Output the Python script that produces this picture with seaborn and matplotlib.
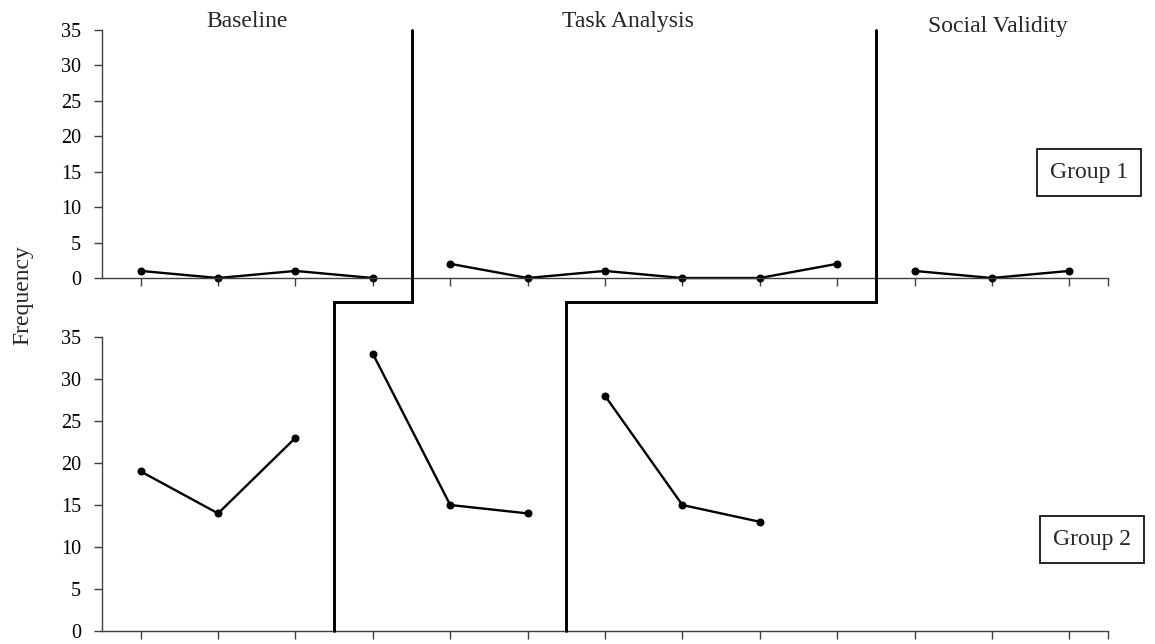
import numpy as np
import pandas as pd
import seaborn as sns
import matplotlib
matplotlib.use('Agg')
import matplotlib.pyplot as plt
from matplotlib.lines import Line2D
from matplotlib.transforms import blended_transform_factory

# data
sessions_g1 = list(range(1, 14))
freq_g1 = [1, 0, 1, 0, 2, 0, 1, 0, 0, 2, 1, 0, 1]
phase_g1 = ['Baseline'] * 4 + ['Task Analysis'] * 6 + ['Social Validity'] * 3

sessions_g2 = list(range(1, 10))
freq_g2 = [19, 14, 23, 33, 15, 14, 28, 15, 13]
phase_g2 = ['Baseline'] * 3 + ['Task Analysis'] * 3 + ['Social Validity'] * 3

phase_titles = ['Baseline', 'Task Analysis', 'Social Validity']
phase_change_g1 = [4.5, 10.5]
phase_change_g2 = [3.5, 6.5]
group_labels = ['Group 1', 'Group 2']

df1 = pd.DataFrame({'session': sessions_g1, 'freq': freq_g1, 'phase': phase_g1})
df2 = pd.DataFrame({'session': sessions_g2, 'freq': freq_g2, 'phase': phase_g2})

sns.set_theme(style='white')
plt.rcParams['font.family'] = ['Liberation Serif', 'DejaVu Serif']

W, H = 1155, 644
fig = plt.figure(figsize=(W / 100, H / 100), dpi=100)
ax1 = fig.add_axes([102 / W, 1 - 278 / H, 1006 / W, 248 / H])
ax2 = fig.add_axes([102 / W, 1 - 631 / H, 1006 / W, 294 / H])

axis_col = '#404040'
for ax, df in [(ax1, df1), (ax2, df2)]:
    sns.lineplot(data=df, x='session', y='freq', units='phase', estimator=None,
                 color='black', marker='o', markersize=5, markeredgecolor='black',
                 linewidth=1.7, ax=ax, legend=False)
    for ln in ax.lines:
        ln.set_clip_on(False)
    ax.set_xlim(0.5, 13.5)
    ax.set_ylim(0, 35)
    ax.set_yticks(range(0, 36, 5))
    ax.set_xticks(list(range(1, 14)) + [13.5])
    ax.set_xticklabels([])
    ax.set_xlabel('')
    ax.set_ylabel('')
    sns.despine(ax=ax)
    for s in ['left', 'bottom']:
        ax.spines[s].set_color(axis_col)
        ax.spines[s].set_linewidth(1)
    ax.tick_params(bottom=True, left=True, direction='out', length=6, width=1,
                   color=axis_col, labelsize=14.5, labelcolor='black', pad=9)

# phase titles
tr = blended_transform_factory(ax1.transData, ax1.transAxes)
for x, y, t in zip([2.38, 7.3, 12.08], [1.035, 1.035, 1.015], phase_titles):
    ax1.text(x, y, t, transform=tr, ha='center', va='center', fontsize=17)

# group boxes
ax1.text(0.981, 0.427, group_labels[0], transform=ax1.transAxes, ha='center', va='center',
         fontsize=17, bbox=dict(boxstyle='square,pad=0.55', fc='white', ec='black', lw=1.2))
ax2.text(0.984, 0.31, group_labels[1], transform=ax2.transAxes, ha='center', va='center',
         fontsize=17, bbox=dict(boxstyle='square,pad=0.55', fc='white', ec='black', lw=1.2))

fig.text(23 / W, 1 - 295 / H, 'Frequency', rotation=90, ha='center', va='center', fontsize=17)

# stepped phase-change lines across both panels
inv = fig.transFigure.inverted()
y_conn = 1 - 302 / H
for xt, xb in zip(phase_change_g1, phase_change_g2):
    p0 = inv.transform(ax1.transData.transform((xt, 35)))
    p3 = inv.transform(ax2.transData.transform((xb, 0)))
    xs = [p0[0], p0[0], p3[0], p3[0]]
    ys = [p0[1], y_conn, y_conn, p3[1]]
    fig.add_artist(Line2D(xs, ys, transform=fig.transFigure, color='black', lw=2.1,
                          solid_joinstyle='miter'))

fig.savefig('out.png', dpi=100)
